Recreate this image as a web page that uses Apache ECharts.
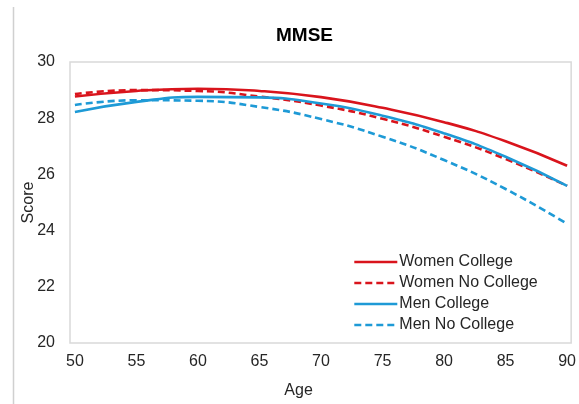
<!DOCTYPE html>
<html>
<head>
<meta charset="utf-8">
<script src="https://cdn.jsdelivr.net/npm/echarts@6/dist/echarts.min.js"></script>
<style>html,body{margin:0;padding:0;background:#fff;}#c{width:579px;height:404px;}</style>
</head>
<body>
<div id="c"></div>
<script>
const ages = [50, 55, 60, 65, 70, 75, 80, 85, 90];
const xTicks = [50, 55, 60, 65, 70, 75, 80, 85, 90];
const yTicks = [20, 22, 24, 26, 28, 30];
const womenCollege   = [28.77, 28.97, 29.05, 28.97, 28.75, 28.37, 27.86, 27.18, 26.31];
const womenNoCollege = [28.86, 29.00, 28.97, 28.77, 28.45, 27.98, 27.34, 26.55, 25.59];
const menCollege     = [28.22, 28.58, 28.76, 28.74, 28.52, 28.09, 27.46, 26.63, 25.59];
const menNoCollege   = [28.47, 28.64, 28.62, 28.40, 27.97, 27.34, 26.51, 25.48, 24.24];
const seriesNames = ['Women College', 'Women No College', 'Men College', 'Men No College'];

const RED = '#D9141C', BLUE = '#1E9AD6';
const FONT = 'Liberation Sans, Arial, sans-serif';
const pts = arr => ages.map((a, i) => [a, arr[i]]);
function mk(name, data, color, dashed) {
  return {
    name, type: 'line', data: pts(data), smooth: 0.5, symbol: 'none',
    lineStyle: { color, width: 2.6, type: dashed ? [7, 4] : 'solid' },
    itemStyle: { color }
  };
}
const chart = echarts.init(document.getElementById('c'));
chart.setOption({
  animation: false,
  backgroundColor: '#fff',
  textStyle: { fontFamily: FONT },
  title: {
    text: 'MMSE', left: 271, top: 21,
    textStyle: { fontFamily: FONT, fontSize: 19, fontWeight: 'bold', color: '#000' }
  },
  graphic: [{
    type: 'line', shape: { x1: 13.5, y1: 7, x2: 13.5, y2: 404 },
    style: { stroke: '#D0D0D0', lineWidth: 1.5 }
  }],
  grid: { left: 70, right: 4, top: 62, bottom: 58, show: true, borderColor: '#D9D9D9', borderWidth: 1.5, backgroundColor: 'transparent' },
  legend: {
    orient: 'vertical', left: 353, top: 254, padding: 0, itemWidth: 43, itemHeight: 16, itemGap: 5,
    itemStyle: { opacity: 0 },
    lineStyle: { width: 2.6 },
    textStyle: { fontFamily: FONT, fontSize: 16, color: '#262626', padding: [0, 0, 0, -3] },
    data: seriesNames
  },
  xAxis: {
    type: 'value', min: 49.6, max: 90.33,
    name: 'Age', nameLocation: 'middle', nameGap: 40, nameMoveOverlap: false,
    nameTextStyle: { fontFamily: FONT, fontSize: 16, color: '#262626', padding: [0, 44, 0, 0] },
    axisLine: { show: false }, axisTick: { show: false }, splitLine: { show: false },
    axisLabel: { customValues: xTicks, fontFamily: FONT, fontSize: 16, color: '#262626', margin: 11 }
  },
  yAxis: {
    type: 'value', min: 20, max: 30, interval: 2,
    name: 'Score', nameLocation: 'middle', nameGap: 33, nameMoveOverlap: false,
    nameTextStyle: { fontFamily: FONT, fontSize: 16, color: '#262626', padding: [0, 0, 0, 0] },
    axisLine: { show: false }, axisTick: { show: false }, splitLine: { show: false },
    axisLabel: { customValues: yTicks, fontFamily: FONT, fontSize: 16, color: '#262626', margin: 15 }
  },
  series: [
    mk(seriesNames[0], womenCollege, RED, false),
    mk(seriesNames[1], womenNoCollege, RED, true),
    mk(seriesNames[2], menCollege, BLUE, false),
    mk(seriesNames[3], menNoCollege, BLUE, true)
  ]
});
</script>
</body>
</html>
